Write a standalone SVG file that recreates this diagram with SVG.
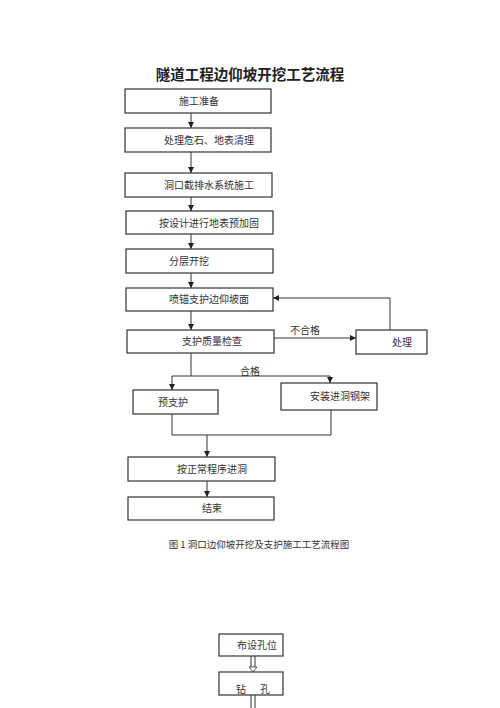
<svg xmlns="http://www.w3.org/2000/svg" width="500" height="708" viewBox="0 0 500 708">
<defs>
<marker id="ah" viewBox="0 0 10 10" refX="10" refY="5" markerWidth="6" markerHeight="6" orient="auto" markerUnits="userSpaceOnUse"><path d="M0,0 L10,5 L0,10 z" fill="#222"/></marker>
</defs>
<style>
.box{fill:#fff;stroke:#333;stroke-width:1.2}
.t{font-family:"Noto Sans CJK SC","Noto Sans CJK JP",sans-serif;font-size:10px;fill:#333}
.ln{fill:none;stroke:#333;stroke-width:1}
</style>
<rect width="500" height="708" fill="#fff"/>
<text x="250" y="80" text-anchor="middle" style="font-family:'Noto Sans CJK SC',sans-serif;font-size:14.5px;font-weight:bold;fill:#222">隧道工程边仰坡开挖工艺流程</text>
<g id="n1"><rect class="box" x="125" y="89" width="146" height="24"/><text class="t" x="179" y="105">施工准备</text></g>
<g id="n2"><rect class="box" x="125" y="128" width="146" height="24"/><text class="t" x="164" y="144">处理危石、地表清理</text></g>
<g id="n3"><rect class="box" x="125" y="173" width="147" height="24"/><text class="t" x="164" y="189">洞口截排水系统施工</text></g>
<g id="n4"><rect class="box" x="126" y="211" width="147" height="23"/><text class="t" x="159" y="227">按设计进行地表预加固</text></g>
<g id="n5"><rect class="box" x="126" y="249" width="147" height="24"/><text class="t" x="169" y="265">分层开挖</text></g>
<g id="n6"><rect class="box" x="126" y="288" width="147" height="23"/><text class="t" x="169" y="303">喷锚支护边仰坡面</text></g>
<g id="n7"><rect class="box" x="127" y="330" width="147" height="23"/><text class="t" x="182" y="345">支护质量检查</text></g>
<g id="n8"><rect class="box" x="356" y="330" width="71" height="24"/><text class="t" x="392" y="346">处理</text></g>
<g id="n9"><rect class="box" x="133" y="390" width="85" height="24"/><text class="t" x="158" y="406">预支护</text></g>
<g id="n10"><rect class="box" x="281" y="383" width="96" height="27"/><text class="t" x="310" y="400">安装进洞钢架</text></g>
<g id="n11"><rect class="box" x="128" y="457" width="147" height="24"/><text class="t" x="177" y="473">按正常程序进洞</text></g>
<g id="n12"><rect class="box" x="128" y="497" width="146" height="23"/><text class="t" x="202" y="512">结束</text></g>
<g id="n13"><rect class="box" x="219" y="634" width="64" height="22"/><text class="t" x="237" y="649">布设孔位</text></g>
<g id="n14"><rect class="box" x="219" y="672" width="64" height="23"/><text class="t" x="236" y="693">钻</text><text class="t" x="260" y="693">孔</text></g>
<g id="edges">
<line class="ln" x1="191" y1="113" x2="191" y2="128" marker-end="url(#ah)"/>
<line class="ln" x1="191" y1="152" x2="191" y2="173" marker-end="url(#ah)"/>
<line class="ln" x1="191" y1="197" x2="191" y2="211" marker-end="url(#ah)"/>
<line class="ln" x1="191" y1="234" x2="191" y2="249" marker-end="url(#ah)"/>
<line class="ln" x1="191" y1="273" x2="191" y2="288" marker-end="url(#ah)"/>
<line class="ln" x1="191" y1="311" x2="191" y2="330" marker-end="url(#ah)"/>
<line class="ln" x1="274" y1="338" x2="356" y2="338" marker-end="url(#ah)"/>
<text class="t" x="290" y="334">不合格</text>
<polyline class="ln" points="390,330 390,298 273,298" marker-end="url(#ah)"/>
<line class="ln" x1="191" y1="353" x2="191" y2="376"/>
<line class="ln" x1="172" y1="376" x2="330" y2="376"/>
<line class="ln" x1="172" y1="376" x2="172" y2="390" marker-end="url(#ah)"/>
<line class="ln" x1="330" y1="376" x2="330" y2="383" marker-end="url(#ah)"/>
<text class="t" x="240" y="375">合格</text>
<polyline class="ln" points="172,414 172,435 331,435 331,410"/>
<line class="ln" x1="207" y1="435" x2="207" y2="457" marker-end="url(#ah)"/>
<line class="ln" x1="207" y1="481" x2="207" y2="497" marker-end="url(#ah)"/>
<line class="ln" x1="251" y1="656" x2="251" y2="668"/>
<line class="ln" x1="255" y1="656" x2="255" y2="668"/>
<path d="M249,667 L257,667 L253,672 z" fill="#fff" stroke="#333" stroke-width="0.8"/>
<line class="ln" x1="251" y1="695" x2="251" y2="708"/>
<line class="ln" x1="255" y1="695" x2="255" y2="708"/>
</g>
<text class="t" x="259" y="548" text-anchor="middle" style="font-size:9.5px">图 1 洞口边仰坡开挖及支护施工工艺流程图</text>
</svg>
